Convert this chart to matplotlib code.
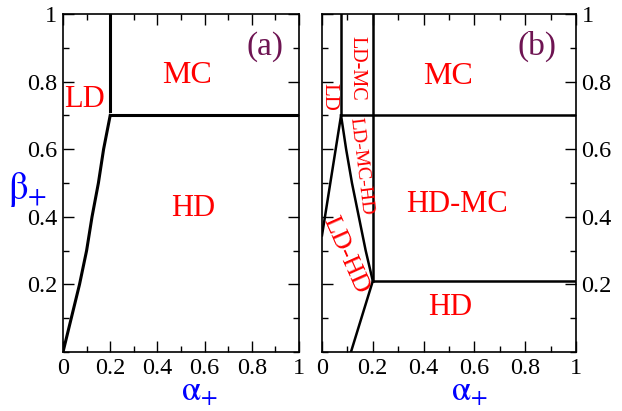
import matplotlib
matplotlib.use('Agg')
import matplotlib.pyplot as plt
from matplotlib.ticker import MultipleLocator

plt.rcParams['font.family'] = ['Liberation Serif', 'DejaVu Serif']
plt.rcParams['mathtext.fontset'] = 'stix'

# panel (a) phase boundaries
a_curve_x = [0, 0.035, 0.07, 0.1, 0.123, 0.15, 0.172, 0.2]
a_curve_y = [0, 0.1, 0.2, 0.3, 0.4, 0.5, 0.6, 0.7]
a_vert_x = [0.2, 0.2]
a_vert_y = [0.712, 1.0]
a_horiz_x = [0.2, 1.0]
a_horiz_y = [0.7, 0.7]

# panel (b) phase boundaries
b_left_x = [0, 0.075]
b_left_y = [0.345, 0.7]
b_mid_x = [0.075, 0.095, 0.118, 0.145, 0.172, 0.2]
b_mid_y = [0.7, 0.6, 0.5, 0.4, 0.3, 0.21]
b_low_x = [0.2, 0.114]
b_low_y = [0.21, 0.0]
b_vert1_x = [0.075, 0.075]
b_vert1_y = [0.7, 1.0]
b_vert2_x = [0.2, 0.2]
b_vert2_y = [0.21, 1.0]
b_top_x = [0.075, 1.0]
b_top_y = [0.7, 0.7]
b_bot_x = [0.2, 1.0]
b_bot_y = [0.21, 0.21]

xticks = [0, 0.2, 0.4, 0.6, 0.8, 1]
xticklabels = ['0', '0.2', '0.4', '0.6', '0.8', '1']
yticks = [0.2, 0.4, 0.6, 0.8, 1]
yticklabels = ['0.2', '0.4', '0.6', '0.8', '1']

RED = '#ff0000'
BLUE = '#0000ff'
PURPLE = '#6e1452'
SERIF = ['Liberation Serif', 'DejaVu Serif']

fig = plt.figure(figsize=(6.22, 4.11), dpi=100)
ax1 = fig.add_axes([63 / 622, 1 - 352 / 411, 236 / 622, 338 / 411])
ax2 = fig.add_axes([322 / 622, 1 - 352 / 411, 254 / 622, 338 / 411])

for ax in (ax1, ax2):
    ax.set_xlim(0, 1)
    ax.set_ylim(0, 1)
    ax.set_xticks(xticks)
    ax.set_xticklabels(xticklabels, fontfamily=SERIF)
    ax.set_yticks(yticks)
    ax.set_yticklabels(yticklabels, fontfamily=SERIF)
    ax.xaxis.set_minor_locator(MultipleLocator(0.1))
    ax.yaxis.set_minor_locator(MultipleLocator(0.1))
    ax.tick_params(which='both', direction='in', top=True, right=True,
                   width=1.0, labelsize=17.5)
    ax.tick_params(which='major', length=8)
    ax.tick_params(which='minor', length=4)
    ax.tick_params(axis='x', pad=4)
    ax.tick_params(axis='y', pad=4)
    for sp in ax.spines.values():
        sp.set_linewidth(1.2)
    # x axis label, placed by its baseline
    ax.text(0.58, -0.147, r'$\mathrm{\alpha}_{+}$', color=BLUE, fontsize=25,
            ha='center', va='baseline', transform=ax.transAxes)

ax2.tick_params(axis='y', labelleft=False, labelright=True)

# panel (a)
lw_a = 2.2
ax1.plot(a_curve_x, a_curve_y, color='black', lw=lw_a)
ax1.plot(a_vert_x, a_vert_y, color='black', lw=lw_a)
ax1.plot(a_horiz_x, a_horiz_y, color='black', lw=lw_a)
ax1.text(-0.15, 0.48, r'$\mathrm{\beta}_{+}$', color=BLUE, fontsize=28,
         ha='center', va='center', transform=ax1.transAxes)
ax1.text(0.856, 0.903, '(a)', color=PURPLE, fontsize=24, ha='center', va='center')
ax1.text(0.524, 0.817, 'MC', color=RED, fontsize=23, ha='center', va='center')
ax1.text(0.09, 0.748, 'LD', color=RED, fontsize=22, ha='center', va='center')
ax1.text(0.552, 0.425, 'HD', color=RED, fontsize=22, ha='center', va='center')

# panel (b)
lw_b = 1.8
for xs, ys in [(b_left_x, b_left_y), (b_mid_x, b_mid_y), (b_low_x, b_low_y),
               (b_vert1_x, b_vert1_y), (b_vert2_x, b_vert2_y),
               (b_top_x, b_top_y), (b_bot_x, b_bot_y)]:
    ax2.plot(xs, ys, color='black', lw=lw_b)
ax2.text(0.848, 0.904, '(b)', color=PURPLE, fontsize=24, ha='center', va='center')
ax2.text(0.497, 0.815, 'MC', color=RED, fontsize=23, ha='center', va='center')
ax2.text(0.53, 0.437, 'HD-MC', color=RED, fontsize=22, ha='center', va='center')
ax2.text(0.504, 0.132, 'HD', color=RED, fontsize=22, ha='center', va='center')
ax2.text(0.139, 0.838, 'LD-MC', color=RED, fontsize=14.5, ha='center', va='center',
         rotation=-90, rotation_mode='anchor')
ax2.text(0.029, 0.754, 'LD', color=RED, fontsize=15, ha='center', va='center',
         rotation=-90, rotation_mode='anchor')
ax2.text(0.154, 0.55, 'LD-MC-HD', color=RED, fontsize=14, ha='center', va='center',
         rotation=-83, rotation_mode='anchor')
ax2.text(0.091, 0.286, 'LD-HD', color=RED, fontsize=19, ha='center', va='center',
         rotation=-66, rotation_mode='anchor')

fig.savefig('out.png', dpi=100)
